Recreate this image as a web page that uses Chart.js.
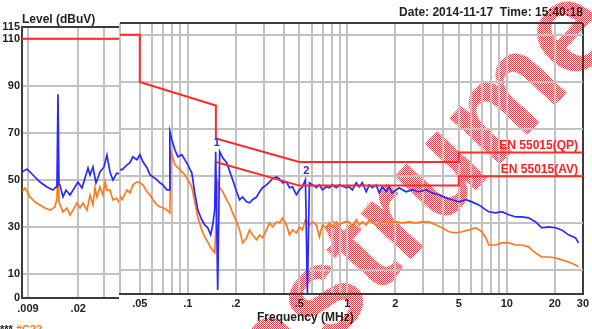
<!DOCTYPE html>
<html>
<head>
<meta charset="utf-8">
<script src="https://cdn.jsdelivr.net/npm/chart.js@4.4.1/dist/chart.umd.min.js"></script>
<style>
html, body { margin: 0; padding: 0; background: #fff; }
#wrap { position: relative; width: 592px; height: 329px; overflow: hidden;
	font-family: "Liberation Sans", Arial, sans-serif; font-weight: bold; }
#left { position: absolute; left: 0; top: 0; }
#right { position: absolute; left: 110px; top: 0; }
.txt { position: absolute; white-space: nowrap; font-size: 12px; line-height: 12px; color: #222; }
.red { color: #ff2020; }
</style>
</head>
<body>
<div id="wrap">
	<canvas id="left" width="130" height="329"></canvas>
	<canvas id="right" width="482" height="329"></canvas>
	<div class="txt" style="left:22px; top:13px;">Level (dBuV)</div>
	<div class="txt" style="right:9px; top:6px;">Date: 2014-11-17&nbsp; Time: 15:40:18</div>
	<div class="txt" style="left:257px; top:311px;">Frequency (MHz)</div>
	<div class="txt red" style="right:14px; top:139px;">EN 55015(QP)</div>
	<div class="txt red" style="right:14px; top:163px;">EN 55015(AV)</div>
	<div class="txt" style="left:0px; top:323px; font-size:11px;">*** <span style="color:#ff7a20">#C22</span></div>
</div>
<script>
// Conducted emission scan, values as [MHz, dBuV]
//===========================================

const blueTrace = [
	[0.00818,53.5],[0.00886,54.7],[0.00974,52.2],[0.01089,49.2],[0.01217,47.1],[0.01339,45.8],
	[0.01404,47.1],[0.01426,47.0],[0.01449,86.5],[0.01472,48.0],[0.01496,47.9],[0.01569,42.9],
	[0.01646,45.8],[0.01754,43.7],[0.01898,47.1],[0.01991,49.2],[0.02122,46.7],[0.02334,55.2],
	[0.0241,52.2],[0.02526,55.6],[0.0265,48.8],[0.02823,53.5],[0.03008,55.6],[0.03155,60.7],
	[0.03309,53.5],[0.03471,50.1],[0.0369,53.0],[0.0387,52.7],[0.0416,54.8],[0.0434,55.7],
	[0.0453,58.2],[0.048,57.0],[0.0501,59.1],[0.0523,56.1],[0.0555,53.6],[0.0579,50.6],
	[0.0604,49.7],[0.064,48.5],[0.0668,47.2],[0.0698,46.3],[0.074,44.2],[0.0765,44.2],
	[0.0772,68.9],[0.0794,65.5],[0.083,61.2],[0.0866,58.2],[0.0917,59.1],[0.0958,57.0],
	[0.1,54.8],[0.1059,51.4],[0.1106,42.9],[0.1155,35.7],[0.1223,31.5],[0.1277,29.3],
	[0.1334,28.1],[0.1392,25.1],[0.1433,29.3],[0.1475,35.7],[0.1496,60.4],[0.154,1.7],
	[0.1585,60.4],[0.1655,57.8],[0.1753,55.7],[0.1911,48.5],[0.2024,43.4],[0.2113,40.0],
	[0.2207,41.2],[0.2337,39.1],[0.244,38.7],[0.2548,40.0],[0.2699,41.2],[0.2818,43.4],
	[0.2943,45.1],[0.3117,46.3],[0.3255,47.6],[0.3398,48.9],[0.36,49.7],[0.3758,48.9],
	[0.3924,47.2],[0.4157,47.6],[0.434,45.1],[0.4532,45.5],[0.48,42.1],[0.5012,44.2],
	[0.5233,45.5],[0.5464,48.5],[0.5623,0.4],[0.5788,47.2],[0.6043,46.3],[0.6402,45.1],
	[0.6683,46.3],[0.6978,44.2],[0.7392,45.5],[0.7718,45.1],[0.8058,46.3],[0.8536,45.1],
	[0.8913,46.3],[0.9857,45.1],[1.029,45.5],[1.075,44.2],[1.138,47.2],[1.189,45.5],
	[1.241,47.2],[1.315,43.4],[1.372,46.3],[1.433,45.1],[1.518,46.3],[1.585,42.9],
	[1.655,45.5],[1.753,43.4],[1.83,45.5],[1.911,42.9],[2.113,45.1],[2.337,43.4],
	[2.548,44.2],[2.818,43.4],[3.117,44.2],[3.398,42.9],[3.758,42.1],[4.157,40.8],
	[4.532,40.0],[5.012,39.1],[5.543,40.0],[6.043,39.1],[6.683,37.8],[7.392,35.7],
	[7.718,34.9],[8.536,34.4],[9.305,34.9],[10.29,33.6],[11.38,32.7],[12.41,32.7],
	[13.72,32.3],[15.18,30.6],[16.55,28.1],[18.3,28.5],[20.24,28.1],[22.07,27.2],
	[24.4,25.1],[26.99,23.8],[28.18,21.7]
];

const orangeTrace = [
	[0.00818,45.0],[0.00858,46.7],[0.00929,42.9],[0.01006,40.7],[0.01089,39.5],[0.01179,38.2],
	[0.01277,37.3],[0.01382,38.6],[0.01426,42.4],[0.01449,57.7],[0.01472,40.7],[0.01569,36.5],
	[0.01672,38.2],[0.01754,35.2],[0.01839,37.3],[0.0196,40.3],[0.02056,38.2],[0.02156,40.3],
	[0.02298,37.3],[0.0241,43.7],[0.02526,39.5],[0.02608,46.7],[0.02692,42.9],[0.02823,47.1],
	[0.0296,43.7],[0.03057,49.2],[0.03155,45.8],[0.03309,45.8],[0.03471,41.6],[0.0369,42.4],
	[0.0387,40.0],[0.0416,44.2],[0.0434,42.9],[0.0453,46.3],[0.048,47.6],[0.0501,47.2],
	[0.0523,46.3],[0.0555,43.4],[0.0579,42.1],[0.0604,40.0],[0.064,37.8],[0.0668,37.0],
	[0.0698,36.6],[0.074,35.7],[0.0772,34.4],[0.0783,60.4],[0.083,54.8],[0.0866,53.6],
	[0.0917,51.9],[0.0958,50.6],[0.1,48.5],[0.1059,45.5],[0.1106,39.1],[0.1155,32.7],
	[0.1223,27.2],[0.1277,24.2],[0.1334,22.1],[0.1392,19.6],[0.1475,17.4],[0.1518,37.0],
	[0.154,47.6],[0.1585,45.1],[0.1655,43.4],[0.1753,40.0],[0.183,37.8],[0.1911,34.4],
	[0.2024,30.6],[0.2113,27.2],[0.2207,21.7],[0.2337,23.8],[0.244,27.2],[0.2548,25.1],
	[0.2699,23.0],[0.2818,25.1],[0.2943,23.8],[0.3117,27.2],[0.3255,30.2],[0.3398,28.5],
	[0.36,30.6],[0.3758,30.2],[0.3924,32.3],[0.4157,29.3],[0.434,25.1],[0.4532,27.2],
	[0.48,25.9],[0.5012,28.5],[0.5233,27.2],[0.5464,31.5],[0.5788,29.3],[0.6043,30.6],
	[0.6402,29.3],[0.6683,24.2],[0.6978,29.3],[0.7392,28.1],[0.7718,30.2],[0.8058,28.5],
	[0.8536,30.6],[0.8913,29.3],[0.9578,30.6],[1.029,30.6],[1.075,28.5],[1.138,31.5],
	[1.189,29.3],[1.241,30.6],[1.315,29.3],[1.372,31.5],[1.518,29.3],[1.655,30.6],
	[1.83,30.2],[2.024,30.6],[2.207,30.2],[2.44,30.6],[2.699,30.2],[2.943,30.6],
	[3.255,30.6],[3.6,29.3],[3.924,28.1],[4.34,26.4],[4.8,25.9],[5.233,26.4],
	[5.788,27.2],[6.402,28.1],[6.978,26.4],[7.392,23.8],[7.718,20.8],[8.536,20.8],
	[9.305,21.7],[10.29,21.7],[11.38,20.8],[12.41,20.8],[13.72,20.0],[14.33,18.7],
	[15.18,17.4],[16.55,15.7],[18.3,15.7],[20.24,15.3],[22.07,14.5],[24.4,13.6],
	[26.99,12.3],[28.18,11.5]
];

// EN 55015 limits
const qpLimit = [[0.00818,110],[0.05,110],[0.05,90],[0.15,80],[0.15,66],[0.5,56],[5,56],[5,60],[30,60]];
const avLimit = [[0.15,56],[0.5,46],[5,46],[5,50],[30,50]];

// marker numbers on the blue trace
const markerFreq = [0.1496, 0.5464];
const markerLabel = ['1', '2'];

// axes
const yTicks = [0, 10, 30, 50, 70, 90, 110, 115];
const leftTicks = [0.00818, 0.009, 0.02, 0.03];
const leftTickLabels = ['', '.009', '.02', ''];
const rightTicks = [0.03758, 0.05, 0.06, 0.07, 0.08, 0.09, 0.1, 0.2, 0.3, 0.4, 0.5, 0.6, 0.7, 0.8, 0.9,
	1, 2, 3, 4, 5, 6, 7, 8, 9, 10, 20, 30];
const rightTickLabels = ['', '.05', '', '', '', '', '.1', '.2', '', '', '.5', '', '', '', '',
	'1', '2', '', '', '5', '', '', '', '', '10', '20', '30'];

const grey = '#c2c2c2',
	  dark = '#3c3c3c',
	  tickFont = { family: '"Liberation Sans", Arial, sans-serif', size: 11, weight: 'bold' };

function toXY(list) {
	return list.map((p) => ({ x: p[0], y: p[1] }));
}

function datasets() {
	return [
		{ data: toXY(qpLimit), borderColor: '#ff2a2a', borderWidth: 2 },
		{ data: toXY(avLimit), borderColor: '#ff2a2a', borderWidth: 2 },
		{ data: toXY(blueTrace), borderColor: '#2828ff', borderWidth: 1.7 },
		{ data: toXY(orangeTrace), borderColor: '#ff7a1e', borderWidth: 1.7 }
	];
}

// red dithered watermark, drawn under the grid
function drawWatermark(chart) {
	const w = chart.width, h = chart.height;
	const off = document.createElement('canvas');
	off.width = w; off.height = h;
	const o = off.getContext('2d');
	o.save();
	o.translate(366, 140);
	o.rotate(-47 * Math.PI / 180);
	o.font = 'bold 130px "Liberation Sans", Arial, sans-serif';
	o.textAlign = 'center';
	o.fillStyle = '#e0444c';
	o.fillText('Instruments', 0, 34);
	o.restore();
	const tile = document.createElement('canvas');
	tile.width = 2; tile.height = 2;
	const t = tile.getContext('2d');
	t.fillStyle = '#000';
	t.fillRect(0, 0, 1, 1);
	t.fillRect(1, 1, 1, 1);
	o.globalCompositeOperation = 'destination-in';
	o.fillStyle = o.createPattern(tile, 'repeat');
	o.fillRect(0, 0, w, h);
	chart.ctx.drawImage(off, 0, 0);
}

// white page behind the plot, only from the plot's left edge on
const whiteBack = {
	id: 'whiteBack',
	beforeDraw(chart, args, opts) {
		const ctx = chart.ctx;
		ctx.save();
		ctx.fillStyle = '#fff';
		ctx.fillRect(opts.from === 'area' ? chart.chartArea.left - 1 : 0, 0, chart.width, chart.height);
		if (opts.watermark) drawWatermark(chart);
		ctx.restore();
	}
};

// marker numbers above the blue peaks
const markers = {
	id: 'markers',
	afterDatasetsDraw(chart) {
		const ctx = chart.ctx, xs = chart.scales.x, ys = chart.scales.y;
		ctx.save();
		ctx.font = 'bold 11px "Liberation Sans", Arial, sans-serif';
		ctx.fillStyle = '#2828ff';
		ctx.textAlign = 'center';
		ctx.textBaseline = 'bottom';
		markerFreq.forEach((f, i) => {
			const p = blueTrace.find((d) => d[0] === f);
			ctx.fillText(markerLabel[i], xs.getPixelForValue(p[0]) + 1, ys.getPixelForValue(p[1]) - 3);
		});
		ctx.restore();
	}
};

function buildChart(id, cfg) {
	return new Chart(document.getElementById(id), {
		type: 'line',
		data: { datasets: datasets() },
		plugins: cfg.plugins,
		options: {
			responsive: false,
			animation: false,
			devicePixelRatio: 1,
			layout: { padding: cfg.padding },
			elements: { point: { radius: 0 }, line: { tension: 0 } },
			plugins: {
				legend: { display: false },
				tooltip: { enabled: false },
				whiteBack: { from: cfg.backFrom, watermark: cfg.watermark }
			},
			scales: {
				x: {
					type: 'logarithmic',
					min: cfg.xMin,
					max: cfg.xMax,
					afterBuildTicks: (s) => { s.ticks = cfg.xTicks.map((v) => ({ value: v })); },
					afterFit: (s) => { s.height = cfg.xHeight; },
					ticks: {
						autoSkip: false,
						maxRotation: 0,
						padding: cfg.xPad,
						color: '#222',
						font: tickFont,
						callback: (v, i) => cfg.xLabels[i]
					},
					grid: {
						drawTicks: false,
						lineWidth: 2,
						color: (c) => (c.index === 0 && cfg.darkFirstX) || (c.tick && c.tick.value === 30) ? dark : grey
					},
					border: { display: true, color: dark, width: 2 }
				},
				y: {
					type: 'linear',
					min: 0,
					max: 115,
					afterBuildTicks: (s) => { s.ticks = yTicks.map((v) => ({ value: v })); },
					afterFit: (s) => { s.width = cfg.yWidth; },
					ticks: {
						display: cfg.yLabels,
						autoSkip: false,
						padding: 2,
						color: '#222',
						font: tickFont,
						callback: (v) => String(v)
					},
					grid: {
						drawTicks: false,
						lineWidth: 2,
						color: (c) => c.tick && (c.tick.value === 115 || c.tick.value === 0) ? dark : grey
					},
					border: { display: cfg.yLabels, color: dark, width: 2 }
				}
			}
		}
	});
}

// left part: 9 kHz band
buildChart('left', {
	padding: { top: 27, right: 0, left: 0, bottom: 0 },
	xMin: 0.00818, xMax: 0.0455,
	xTicks: leftTicks, xLabels: leftTickLabels,
	xHeight: 31, xPad: 4, yWidth: 22, yLabels: true, darkFirstX: true,
	backFrom: 'all', watermark: false,
	plugins: [whiteBack]
});

// right part: 0.04 - 30 MHz, drawn over the left one
buildChart('right', {
	padding: { top: 23, right: 8, left: 0, bottom: 0 },
	xMin: 0.03758, xMax: 30,
	xTicks: rightTicks, xLabels: rightTickLabels,
	xHeight: 35, xPad: 3, yWidth: 10, yLabels: false, darkFirstX: false,
	backFrom: 'area', watermark: true,
	plugins: [whiteBack, markers]
});
</script>
</body>
</html>
